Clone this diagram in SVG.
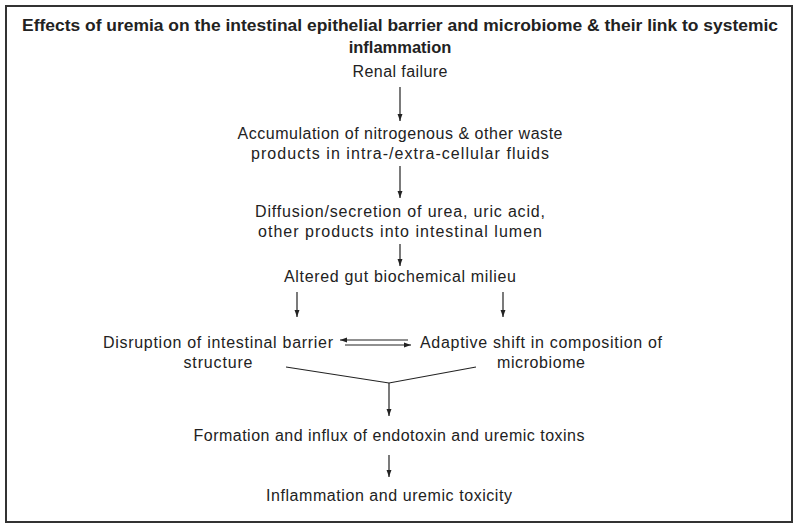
<svg xmlns="http://www.w3.org/2000/svg" width="800" height="529" viewBox="0 0 800 529">
<defs>
<marker id="ah" viewBox="0 0 10 10" refX="10" refY="5" markerWidth="7" markerHeight="7" markerUnits="userSpaceOnUse" orient="auto">
<path d="M0,1.5 L10,5 L0,8.5 Z" fill="#222"/>
</marker>
</defs>
<style>
text{font-family:"Liberation Sans",Arial,sans-serif;font-size:16px;fill:#222;text-anchor:middle}
.t{font-weight:bold;font-size:16.5px}
.c line,.c polyline{stroke:#222;stroke-width:1.2;fill:none}
.a{marker-end:url(#ah)}
</style>
<rect x="6" y="6" width="786" height="516" fill="#fff" stroke="#333" stroke-width="2"/>
<g id="title">
<text class="t" x="400" y="31" textLength="756" lengthAdjust="spacingAndGlyphs">Effects of uremia on the intestinal epithelial barrier and microbiome &amp; their link to systemic</text>
<text class="t" x="400" y="53">inflammation</text>
</g>
<g id="n1"><text x="400" y="77" textLength="95">Renal failure</text></g>
<g id="n2"><text x="400" y="139" textLength="325">Accumulation of nitrogenous &amp; other waste</text><text x="400" y="159" textLength="298">products in intra-/extra-cellular fluids</text></g>
<g id="n3"><text x="400" y="217" textLength="290">Diffusion/secretion of urea, uric acid,</text><text x="400" y="237" textLength="284">other products into intestinal lumen</text></g>
<g id="n4"><text x="400" y="282" textLength="232">Altered gut biochemical milieu</text></g>
<g id="n5"><text x="218" y="348" textLength="230">Disruption of intestinal barrier</text><text x="218" y="368" textLength="69">structure</text></g>
<g id="n6"><text x="541" y="348" textLength="242">Adaptive shift in composition of</text><text x="541" y="368" textLength="88">microbiome</text></g>
<g id="n7"><text x="389" y="441" textLength="391">Formation and influx of endotoxin and uremic toxins</text></g>
<g id="n8"><text x="389" y="501" textLength="246">Inflammation and uremic toxicity</text></g>
<g id="connectors" class="c">
<line class="a" x1="400" y1="87" x2="400" y2="121"/>
<line class="a" x1="400" y1="166" x2="400" y2="198"/>
<line class="a" x1="400" y1="244" x2="400" y2="266"/>
<line class="a" x1="297" y1="292" x2="297" y2="317"/>
<line class="a" x1="503" y1="292" x2="503" y2="317"/>
<line class="a" x1="408" y1="340" x2="340" y2="340"/>
<line class="a" x1="345" y1="345" x2="411" y2="345"/>
<polyline points="286,367 389,383 476,367"/>
<line class="a" x1="389" y1="383" x2="389" y2="416"/>
<line class="a" x1="389" y1="455" x2="389" y2="477"/>
</g>
</svg>
